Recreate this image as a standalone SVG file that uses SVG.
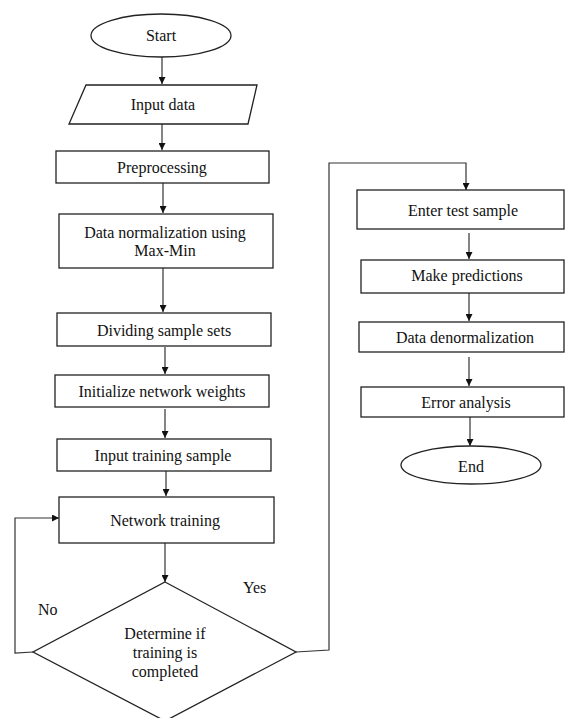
<svg xmlns="http://www.w3.org/2000/svg" width="565" height="718" viewBox="0 0 565 718">
<defs>
<marker id="arr" viewBox="0 0 10 10" refX="10" refY="5" markerWidth="7" markerHeight="7" markerUnits="userSpaceOnUse" orient="auto">
<path d="M0,0 L10,5 L0,10 z" fill="#111"/>
</marker>
<style>
.s{fill:#fff;stroke:#222;stroke-width:1.3}
.t{font-size:16px;fill:#111;text-anchor:middle}
.l{font-size:16px;fill:#111}
.c{fill:none;stroke:#333;stroke-width:1.2}
</style>
</defs>
<rect width="565" height="718" fill="#fff"/>
<g font-family="'Liberation Serif', 'DejaVu Serif', serif">
<g id="connectors">
<line class="c" x1="162" y1="57" x2="162" y2="84" marker-end="url(#arr)"/>
<line class="c" x1="162" y1="124" x2="162" y2="150" marker-end="url(#arr)"/>
<line class="c" x1="163" y1="183" x2="163" y2="213" marker-end="url(#arr)"/>
<line class="c" x1="163" y1="268" x2="163" y2="312" marker-end="url(#arr)"/>
<line class="c" x1="165" y1="347" x2="165" y2="374" marker-end="url(#arr)"/>
<line class="c" x1="165" y1="409" x2="165" y2="438" marker-end="url(#arr)"/>
<line class="c" x1="166" y1="471" x2="166" y2="496" marker-end="url(#arr)"/>
<line class="c" x1="165" y1="543" x2="165" y2="582" marker-end="url(#arr)"/>
<polyline class="c" points="33,652 15,653 15,518 59,518" marker-end="url(#arr)"/>
<polyline class="c" points="296,652 329,650 329,163 466,163 466,190" marker-end="url(#arr)"/>
<line class="c" x1="469" y1="233" x2="469" y2="259" marker-end="url(#arr)"/>
<line class="c" x1="469" y1="293" x2="469" y2="321" marker-end="url(#arr)"/>
<line class="c" x1="469" y1="357" x2="469" y2="386" marker-end="url(#arr)"/>
<line class="c" x1="470" y1="417" x2="470" y2="446" marker-end="url(#arr)"/>
<text class="l" x="38" y="615">No</text>
<text class="l" x="243" y="593">Yes</text>
</g>
<g id="start"><ellipse class="s" cx="161" cy="35.5" rx="70" ry="21.5"/><text class="t" x="161" y="41">Start</text></g>
<g id="input-data"><polygon class="s" points="86,85 257,85 248,124 69,124"/><text class="t" x="163" y="110">Input data</text></g>
<g id="preprocessing"><rect class="s" x="56" y="151" width="213" height="32"/><text class="t" x="162" y="172.5">Preprocessing</text></g>
<g id="normalization"><rect class="s" x="59" y="214" width="214" height="54"/><text class="t" x="165" y="238">Data normalization using</text><text class="t" x="165" y="256">Max-Min</text></g>
<g id="dividing"><rect class="s" x="57" y="313" width="214" height="33"/><text class="t" x="164" y="336">Dividing sample sets</text></g>
<g id="initialize"><rect class="s" x="55" y="375" width="214" height="32"/><text class="t" x="162" y="397">Initialize network weights</text></g>
<g id="input-training"><rect class="s" x="57" y="439" width="214" height="32"/><text class="t" x="163" y="461">Input training sample</text></g>
<g id="network-training"><rect class="s" x="59" y="497" width="215" height="46"/><text class="t" x="165" y="526">Network training</text></g>
<g id="determine"><polygon class="s" points="165,582 296,652 165,721 33,652"/><text class="t" x="165" y="639">Determine if</text><text class="t" x="165" y="658">training is</text><text class="t" x="165" y="677">completed</text></g>
<g id="enter-test"><rect class="s" x="357" y="190" width="207" height="39"/><text class="t" x="463" y="216">Enter test sample</text></g>
<g id="predictions"><rect class="s" x="361" y="260" width="203" height="33"/><text class="t" x="467" y="281">Make predictions</text></g>
<g id="denormalization"><rect class="s" x="359" y="322" width="205" height="30"/><text class="t" x="465" y="343">Data denormalization</text></g>
<g id="error-analysis"><rect class="s" x="361" y="387" width="203" height="30"/><text class="t" x="466" y="408">Error analysis</text></g>
<g id="end"><ellipse class="s" cx="471" cy="465" rx="70" ry="19"/><text class="t" x="471" y="472">End</text></g>
</g>
</svg>
